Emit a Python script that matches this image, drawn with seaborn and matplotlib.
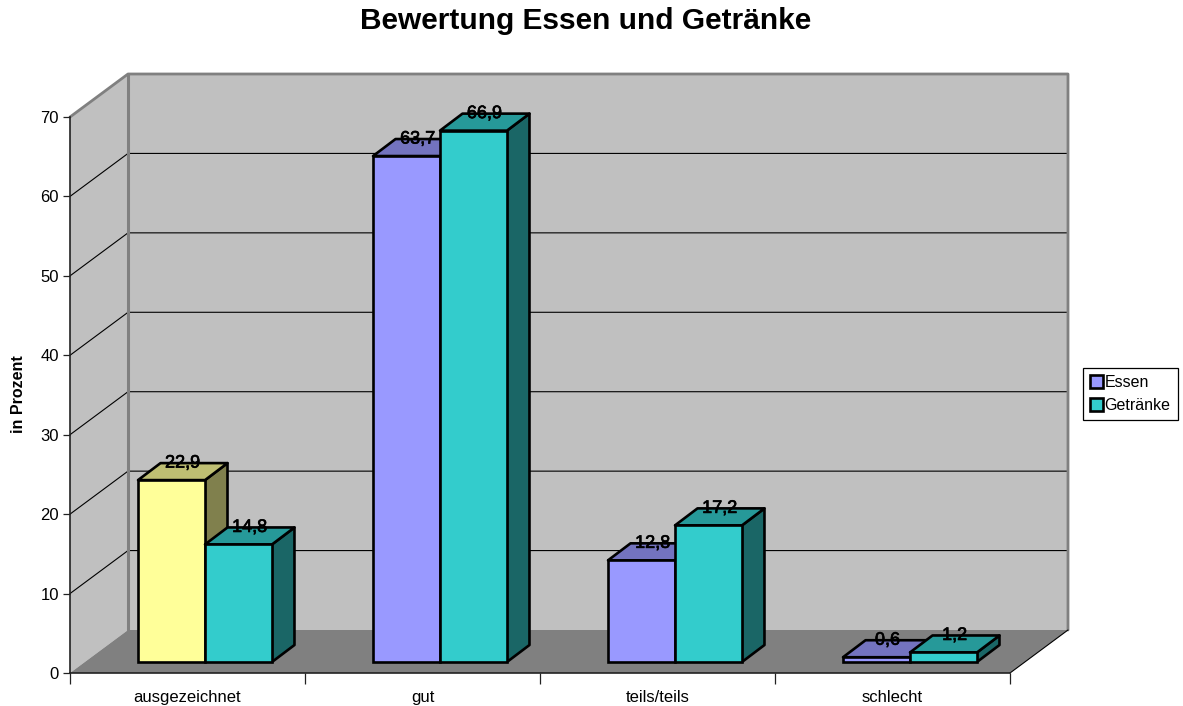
import pandas as pd
import matplotlib.pyplot as plt
import matplotlib.patheffects as pe
from matplotlib.colors import to_rgb
from matplotlib.patches import Patch, Polygon
from matplotlib.transforms import Affine2D
import seaborn as sns

# -------------------------------
# Data
# -------------------------------
categories = ["ausgezeichnet", "gut", "teils/teils", "schlecht"]
essen = [22.9, 63.7, 12.8, 0.6]
getraenke = [14.8, 66.9, 17.2, 1.2]
y_ticks = [0, 10, 20, 30, 40, 50, 60, 70]

df = pd.DataFrame({
    "Kategorie": categories * 2,
    "Prozent": essen + getraenke,
    "Serie": ["Essen"] * 4 + ["Getränke"] * 4,
})

# -------------------------------
# Style
# -------------------------------
sns.set_theme(style="white")
plt.rcParams["font.family"] = ["Liberation Sans", "DejaVu Sans"]

ESSEN_COL = "#9999FF"
GETR_COL = "#33CCCC"
FIRST_COL = "#FFFF99"
WALL_COL = "#C0C0C0"
FLOOR_COL = "#808080"

fig = plt.figure(figsize=(11.83, 7.06), dpi=100, facecolor="white")
ax = fig.add_axes([70 / 1183, 33 / 706, 940 / 1183, 556 / 706])

XMIN, XMAX, YMAX = -0.5, 3.5, 70
ux = (XMAX - XMIN) / 940   # data units per pixel
uy = YMAX / 556

# depth offsets in pixels, turned into data units
wall_dx, wall_dy = 58 * ux, 43 * uy
bar_dx, bar_dy = 22.5 * ux, 17 * uy
shift_dx, shift_dy = 17.5 * ux, 11 * uy

# -------------------------------
# Bars
# -------------------------------
sns.barplot(data=df, x="Kategorie", y="Prozent", hue="Serie", order=categories,
            hue_order=["Essen", "Getränke"], palette=[ESSEN_COL, GETR_COL],
            width=0.57, gap=0, saturation=1, edgecolor="black", linewidth=1.9,
            legend=False, ax=ax)
ax.set_xlim(XMIN, XMAX)
ax.set_ylim(0, YMAX)
ax.set_xlabel("")
ax.set_ylabel("")
ax.patch.set_alpha(0)


def shade(col, f):
    return tuple(c * f for c in to_rgb(col))


def poly(points, col, z, edge="none", lw=0):
    ax.add_patch(Polygon(points, closed=True, facecolor=col, edgecolor=edge, linewidth=lw,
                         joinstyle="round", clip_on=False, zorder=z))


# -------------------------------
# Walls and floor
# -------------------------------
poly([(XMIN, 0), (XMIN, YMAX), (XMIN + wall_dx, YMAX + wall_dy), (XMIN + wall_dx, wall_dy)], WALL_COL, 0.1)
poly([(XMIN + wall_dx, wall_dy), (XMIN + wall_dx, YMAX + wall_dy),
      (XMAX + wall_dx, YMAX + wall_dy), (XMAX + wall_dx, wall_dy)], WALL_COL, 0.1)
poly([(XMIN, 0), (XMAX, 0), (XMAX + wall_dx, wall_dy), (XMIN + wall_dx, wall_dy)], FLOOR_COL, 0.2)

for v in y_ticks[1:-1]:
    ax.plot([XMIN, XMIN + wall_dx, XMAX + wall_dx], [v, v + wall_dy, v + wall_dy],
            color="black", lw=0.8, clip_on=False, zorder=0.3)

ax.plot([XMIN, XMIN + wall_dx, XMAX + wall_dx, XMAX + wall_dx],
        [YMAX, YMAX + wall_dy, YMAX + wall_dy, wall_dy],
        color=FLOOR_COL, lw=2, clip_on=False, zorder=0.4)
ax.plot([XMIN + wall_dx, XMIN + wall_dx], [wall_dy, YMAX + wall_dy],
        color=FLOOR_COL, lw=2.2, clip_on=False, zorder=0.4)
ax.plot([XMAX, XMAX + wall_dx], [0, wall_dy], color="black", lw=0.8, clip_on=False, zorder=0.4)

# -------------------------------
# 3D boxes built from the seaborn bars
# -------------------------------
shift = Affine2D().translate(shift_dx, shift_dy) + ax.transData
for s, container in enumerate(ax.containers):
    for i, bar in enumerate(container.patches):
        col = to_rgb(FIRST_COL) if (s == 0 and i == 0) else bar.get_facecolor()[:3]
        x0, x1 = bar.get_x() + shift_dx, bar.get_x() + bar.get_width() + shift_dx
        y0, y1 = shift_dy, bar.get_height() + shift_dy
        z = 3 + 2 * s

        poly([(x1, y0), (x1 + bar_dx, y0 + bar_dy), (x1 + bar_dx, y1 + bar_dy), (x1, y1)],
             shade(col, 0.5), z, "black", 1.9)
        poly([(x0, y1), (x0 + bar_dx, y1 + bar_dy), (x1 + bar_dx, y1 + bar_dy), (x1, y1)],
             shade(col, 0.75), z, "black", 1.9)

        bar.set_transform(shift)
        bar.set_facecolor(col)
        bar.set_clip_on(False)
        bar.set_zorder(z + 1)

        ax.text((x0 + x1) / 2 + 11 * ux, y1 + 17 * uy,
                f"{bar.get_height():.1f}".replace(".", ","), ha="center", va="center",
                fontsize=13, color="black", zorder=9,
                path_effects=[pe.withStroke(linewidth=0.5, foreground="black")])

# -------------------------------
# Axes, ticks, text
# -------------------------------
sns.despine(ax=ax, top=True, right=True)
for side in ["left", "bottom"]:
    ax.spines[side].set_color("#222222")
    ax.spines[side].set_linewidth(1.2)
    ax.spines[side].set_zorder(2)

ax.set_yticks(y_ticks)
ax.tick_params(axis="y", which="major", left=True, length=5, width=0.9, color="#222222",
               labelsize=12, pad=3, labelcolor="black")
ax.set_xticks([XMIN + k for k in range(5)])
ax.set_xticklabels([])
ax.set_xticks(range(4), minor=True)
ax.set_xticklabels(categories, minor=True, fontsize=12, color="black")
ax.tick_params(axis="x", which="major", bottom=True, length=8, width=0.9, color="#222222")
ax.tick_params(axis="x", which="minor", bottom=False, length=0, pad=12)

fig.text(586 / 1183, 1 - 21 / 706, "Bewertung Essen und Getränke", ha="center", va="center",
         fontsize=21.5, fontweight="bold", color="black")
fig.text(18.5 / 1183, 1 - 394 / 706, "in Prozent", rotation=90, ha="center", va="center",
         fontsize=11.5, fontweight="bold", color="black")

handles = [Patch(facecolor=ESSEN_COL, edgecolor="black", linewidth=1.9, label="Essen"),
           Patch(facecolor=GETR_COL, edgecolor="black", linewidth=1.9, label="Getränke")]
leg = fig.legend(handles=handles, loc="center left", bbox_to_anchor=(1083 / 1183, 1 - 394 / 706),
                 fontsize=11.5, labelcolor="black", frameon=True, fancybox=False, edgecolor="black",
                 framealpha=1, handlelength=0.8, handleheight=0.8, handletextpad=0.1,
                 labelspacing=0.5, borderpad=0.45, borderaxespad=0)
leg.get_frame().set_linewidth(0.9)

fig.savefig("out.png", dpi=100, facecolor="white")
